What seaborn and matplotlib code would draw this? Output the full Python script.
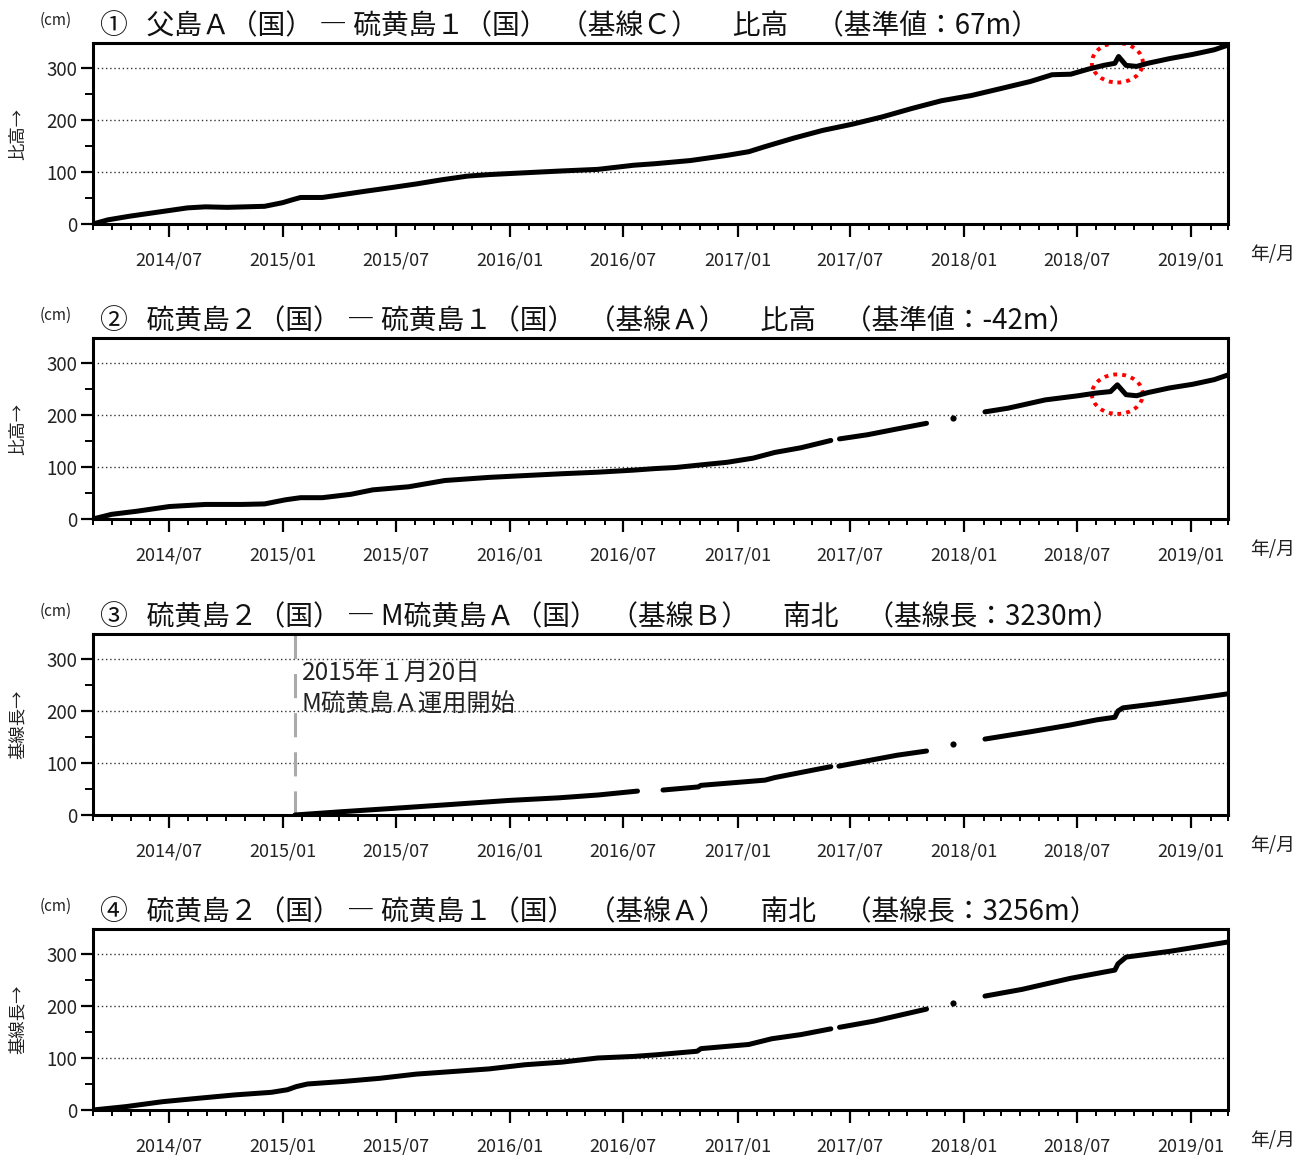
import numpy as np
import pandas as pd
import matplotlib
matplotlib.use("Agg")
import matplotlib.pyplot as plt
import matplotlib.dates as mdates
from matplotlib.patches import Ellipse
from matplotlib.ticker import MultipleLocator
import seaborn as sns

sns.set_theme(style="white")
plt.rcParams["font.family"] = ["Noto Sans CJK JP", "DejaVu Sans"]

NAN = np.nan

# ① 父島A - 硫黄島1 比高 (cm)
p1_dates = ["2014-03-01", "2014-03-25", "2014-04-29", "2014-05-28", "2014-07-02", "2014-07-31",
            "2014-08-29", "2014-10-03", "2014-11-01", "2014-12-02", "2014-12-31", "2015-01-17",
            "2015-01-29", "2015-03-05", "2015-04-09", "2015-05-13", "2015-06-24", "2015-08-03",
            "2015-09-13", "2015-10-24", "2015-11-28", "2016-01-25", "2016-03-24", "2016-05-21",
            "2016-07-18", "2016-08-22", "2016-10-17", "2016-12-15", "2017-01-19", "2017-02-12",
            "2017-04-01", "2017-05-18", "2017-07-05", "2017-08-22", "2017-10-08", "2017-11-25",
            "2018-01-12", "2018-02-27", "2018-04-17", "2018-05-22", "2018-06-21", "2018-07-20",
            "2018-08-13", "2018-08-31", "2018-09-06", "2018-09-18", "2018-10-05", "2018-10-23",
            "2018-11-27", "2019-01-03", "2019-02-07", "2019-03-01"]
p1_vals = [0, 8, 15, 20, 26, 31,
           33, 32, 33, 34, 41, 47,
           51, 51, 57, 63, 70, 77,
           85, 92, 95, 98.5, 102, 105,
           113, 116, 122, 132, 139, 148,
           165, 180, 192, 206, 222, 237,
           247, 260, 274, 287, 288, 298,
           305, 309, 322, 305, 303, 309,
           318, 326, 335, 344]

# ② 硫黄島2 - 硫黄島1 比高 (cm); NaN marks a data gap
p2_dates = ["2014-03-01", "2014-03-31", "2014-05-11", "2014-07-02", "2014-08-29", "2014-10-27",
            "2014-12-02", "2015-01-05", "2015-01-29", "2015-03-05", "2015-04-20", "2015-05-25",
            "2015-07-22", "2015-09-18", "2015-11-28", "2016-01-25", "2016-03-24", "2016-05-21",
            "2016-07-18", "2016-08-22", "2016-09-23", "2016-11-03", "2016-12-15", "2017-01-26",
            "2017-03-02", "2017-04-13", "2017-05-31", "2017-06-07", "2017-06-14", "2017-07-29",
            "2017-09-14", "2017-11-01", "2017-11-20", "2017-12-14", "2018-01-10", "2018-02-03",
            "2018-03-12", "2018-05-11", "2018-07-03", "2018-07-31", "2018-08-24", "2018-09-04",
            "2018-09-18", "2018-10-05", "2018-10-23", "2018-11-27", "2019-01-03", "2019-02-07",
            "2019-03-01"]
p2_vals = [0, 9, 15, 24, 28, 28,
           29, 37, 41, 41, 47.5, 56,
           62, 74, 80, 83.5, 87, 90,
           94, 97, 99, 104, 109, 117,
           128, 137, 151, NAN, 154, 162,
           173, 184, NAN, 194, NAN, 206,
           213, 229, 237, 242, 245, 258,
           239, 237, 243, 252, 259, 268,
           277]

# ③ 硫黄島2 - M硫黄島A 南北 (cm)
p3_dates = ["2015-01-20", "2015-04-01", "2015-06-30", "2015-09-25", "2015-12-30", "2016-03-19",
            "2016-05-22", "2016-07-24", "2016-08-15", "2016-09-03", "2016-10-30", "2016-11-03",
            "2017-02-14", "2017-03-02", "2017-05-31", "2017-06-06", "2017-06-13", "2017-09-15",
            "2017-11-01", "2017-11-20", "2017-12-14", "2018-01-10", "2018-02-03", "2018-04-17",
            "2018-06-20", "2018-08-02", "2018-08-31", "2018-09-05", "2018-09-13", "2018-11-06",
            "2018-12-26", "2019-03-01"]
p3_vals = [0, 6, 13, 20, 28, 33,
           38.5, 46, NAN, 48, 54, 57,
           67, 72, 93, NAN, 94, 115,
           123, NAN, 136, NAN, 146, 160,
           173, 183, 188, 200, 206, 214,
           222, 233]

# ④ 硫黄島2 - 硫黄島1 南北 (cm)
p4_dates = ["2014-03-01", "2014-04-23", "2014-06-21", "2014-08-18", "2014-10-15", "2014-12-13",
            "2015-01-08", "2015-01-22", "2015-02-09", "2015-04-09", "2015-06-06", "2015-08-03",
            "2015-10-01", "2015-11-28", "2016-01-25", "2016-03-24", "2016-05-21", "2016-07-18",
            "2016-08-22", "2016-10-28", "2016-11-03", "2017-01-19", "2017-02-25", "2017-04-13",
            "2017-05-31", "2017-06-07", "2017-06-14", "2017-08-09", "2017-11-01", "2017-11-20",
            "2017-12-14", "2018-01-10", "2018-02-03", "2018-04-04", "2018-06-20", "2018-08-31",
            "2018-09-05", "2018-09-18", "2018-11-27", "2019-03-01"]
p4_vals = [0, 6.5, 16, 22.6, 29, 34,
           39, 45, 50, 55, 61, 69,
           74, 79, 87, 92, 100, 103,
           106, 113, 118, 126, 137, 145,
           156, NAN, 159, 171, 194, NAN,
           205, NAN, 219, 232, 253, 269,
           281, 294, 305, 323]

titles = [
    "①   父島Ａ（国） ― 硫黄島１（国）  （基線Ｃ）　 比高　（基準値：67m）",
    "②   硫黄島２（国） ― 硫黄島１（国）  （基線Ａ）　 比高　（基準値：-42m）",
    "③   硫黄島２（国） ― M硫黄島Ａ（国）  （基線Ｂ）　 南北　（基線長：3230m）",
    "④   硫黄島２（国） ― 硫黄島１（国）  （基線Ａ）　 南北　（基線長：3256m）",
]
ylabels = ["比高→", "比高→", "基線長→", "基線長→"]
series = [(p1_dates, p1_vals), (p2_dates, p2_vals), (p3_dates, p3_vals), (p4_dates, p4_vals)]

# dotted red rings around the September 2018 excursion (panels ① and ②)
ring_center_date = "2018-09-04"
ring_center_vals = [310, 240, None, None]

start_date = "2015-01-20"
start_text = "2015年１月20日\nM硫黄島Ａ運用開始"


def segments(dates, vals):
    df = pd.DataFrame({"date": pd.to_datetime(dates), "cm": vals})
    df["seg"] = df["cm"].isna().cumsum()
    df = df.dropna()
    counts = df["seg"].map(df["seg"].value_counts())
    return df[counts > 1], df[counts == 1]


W, H = 1309, 1155
fig = plt.figure(figsize=(W / 100, H / 100), dpi=100)

left = 93 / W
width = (1228 - 93) / W
bottoms_px = [224, 519, 815, 1110]
height = 181 / H

xmin, xmax = pd.Timestamp("2014-03-01"), pd.Timestamp("2019-03-01")

for i, ((dates, vals), bpx) in enumerate(zip(series, bottoms_px)):
    ax = fig.add_axes([left, 1 - bpx / H, width, height])
    lines, dots = segments(dates, vals)
    sns.lineplot(data=lines, x="date", y="cm", units="seg", estimator=None,
                 color="black", lw=3.6, ax=ax, solid_capstyle="round")
    if len(dots):
        sns.scatterplot(data=dots, x="date", y="cm", color="black", s=20,
                        edgecolor="black", linewidth=0, ax=ax)

    ax.set_xlim(xmin, xmax)
    ax.set_ylim(0, 348)
    ax.set_xlabel("")
    ax.set_ylabel("")

    ax.xaxis.set_major_locator(mdates.MonthLocator(bymonth=[1, 7]))
    ax.xaxis.set_major_formatter(mdates.DateFormatter("%Y/%m"))
    ax.xaxis.set_minor_locator(mdates.MonthLocator())
    ax.yaxis.set_major_locator(MultipleLocator(100))
    ax.yaxis.set_minor_locator(MultipleLocator(50))

    ax.tick_params(axis="x", which="major", direction="out", length=9.5, width=1.6,
                   labelsize=13, pad=10, color="black", bottom=True)
    ax.tick_params(axis="x", which="minor", direction="out", length=4.5, width=1.4,
                   color="black", bottom=True)
    ax.tick_params(axis="y", which="major", direction="out", length=8.5, width=1.6,
                   labelsize=13.5, pad=3, color="black", left=True)
    ax.tick_params(axis="y", which="minor", direction="out", length=6, width=1.4,
                   color="black", left=True)
    for lab in ax.get_xticklabels() + ax.get_yticklabels():
        lab.set_color("#222222")

    for sp in ax.spines.values():
        sp.set_visible(True)
        sp.set_color("black")
        sp.set_linewidth(2.2)

    ax.set_axisbelow(True)
    ax.yaxis.grid(True, which="major", linestyle=(0, (1, 2)), color="#333333", lw=1.0)
    ax.xaxis.grid(False)

    ax.text(0.006, 1.09, titles[i], transform=ax.transAxes, fontsize=20,
            ha="left", va="center", color="#111111")
    ax.text(-0.0326, 1.127, "(cm)", transform=ax.transAxes, fontsize=11,
            ha="center", va="center", color="#222222")
    ax.text(-0.066, 0.5, ylabels[i], transform=ax.transAxes, fontsize=12.5,
            rotation=90, ha="center", va="center", color="#222222")
    ax.text(1.0396, -0.171, "年/月", transform=ax.transAxes, fontsize=13.5,
            ha="center", va="center", color="#222222")

    if ring_center_vals[i] is not None:
        ring = Ellipse((mdates.date2num(pd.Timestamp(ring_center_date)), ring_center_vals[i]),
                       width=82, height=76, fill=False, edgecolor="red", lw=2.8,
                       linestyle=(0, (1, 1.3)))
        ax.add_patch(ring)

    if i == 2:
        sd = pd.Timestamp(start_date)
        ax.axvline(sd, color="#aaaaaa", lw=2.2, linestyle=(0, (7.9, 4.9)), zorder=1)
        ax.text(sd + pd.Timedelta(days=11), 296, start_text, fontsize=17.5,
                ha="left", va="top", linespacing=1.25, color="#222222")

fig.savefig("out.png", dpi=100)
